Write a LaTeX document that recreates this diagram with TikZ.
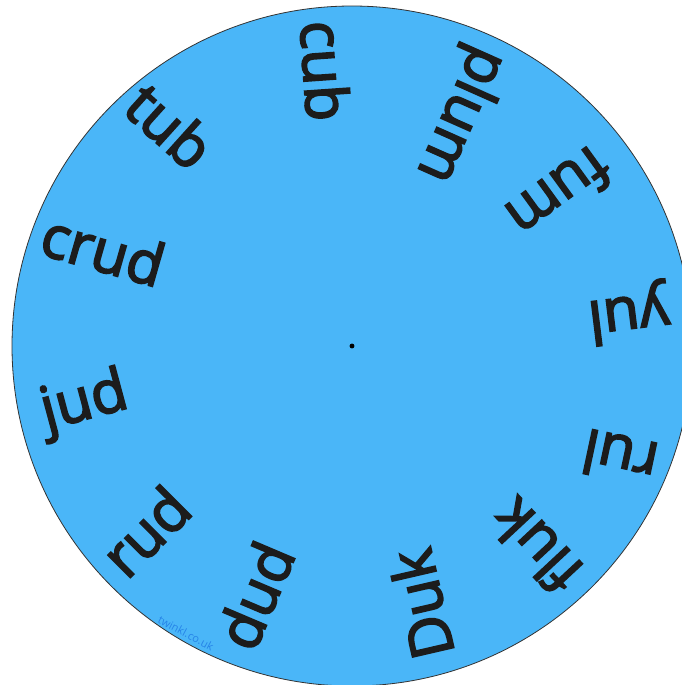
\documentclass[tikz,border=0pt]{standalone}
\usepackage{fontspec}
\setmainfont{Open Sans}
\newfontfamily\wheelfont{Open Sans}[FakeBold=3]
\usepackage{tikz}
\definecolor{wheelblue}{RGB}{74,182,248}
\definecolor{markblue}{RGB}{38,132,232}
\definecolor{ink}{RGB}{28,28,28}

\begin{document}
\begin{tikzpicture}[x=1pt,y=-1pt,
	word/.style={anchor=mid,inner sep=0pt,text=ink,font=\wheelfont\fontsize{59}{59}\selectfont}]
			\useasboundingbox (0,0) rectangle (682,685);
			\clip (0,0) rectangle (682,685);
			\draw [fill=wheelblue,draw=black!80,line width=0.8pt] (352,346) circle[radius=340];
			\draw [fill,black] (352,346) circle[radius=2.2];
			\coordinate (hub) at (352,346);
			
			\node [word,rotate=-86] (cub) at (306,72) {cub};
			\node [word,rotate=-114] (plum) at (448,109) {plum};
			\node [word,rotate=-144] (fum) at (548,178) {fum};
			\node [word,rotate=187] (yul) at (627,300) {yul};
			\node [word,rotate=168] (rul) at (624,439) {rul};
			\node [word,rotate=133] (fluk) at (550,533) {fluk};
			\node [word,rotate=103] (duk) at (440,600) {Duk};
			\node [word,rotate=67] (dud) at (273,603) {dud};
			\node [word,rotate=45] (rud) at (159,545) {rud};
			\node [word,rotate=15] (jud) at (88,416) {jud};
			\node [word,rotate=-16] (crud) at (98,268) {crud};
			\node [word,rotate=-42] (tub) at (157,140) {tub};
			
			\node [rotate=-28,inner sep=1pt,text=markblue,font=\fontsize{11}{11}\selectfont] (mark) at (186,633) {twinkl.co.uk};
			
			\end{tikzpicture}
\end{document}
